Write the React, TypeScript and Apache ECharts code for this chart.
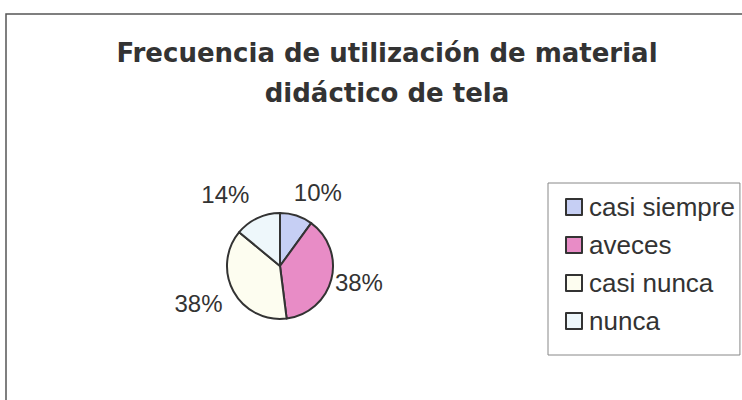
import React, { useEffect, useRef } from "react";
import * as echarts from "echarts";

const titleLines = ["Frecuencia de utilización de material", "didáctico de tela"];
const categories = ["casi siempre", "aveces", "casi nunca", "nunca"];
const values = [10, 38, 38, 14];
const colors = ["#c6cff4", "#e88cc6", "#fdfdf0", "#eef7fb"];

export default function App() {
  const ref = useRef<HTMLDivElement>(null);
  useEffect(() => {
    if (!ref.current) return;
    const chart = echarts.init(ref.current, undefined, { renderer: "svg" });
    const labelTweaks: Record<number, any> = {
      1: { labelLine: { show: false, length: 14, length2: 0 } },
      3: {
        labelLine: { show: false, length: 26, length2: 0 },
        label: { offset: [-7, 0] },
      },
    };
    const data = categories.map((name, i) => ({
      name,
      value: values[i],
      itemStyle: { color: colors[i] },
      ...(labelTweaks[i] || {}),
    }));
    chart.setOption({
      animation: false,
      backgroundColor: "#ffffff",
      title: {
        text: titleLines.join("\n"),
        left: 382,
        textAlign: "center",
        top: 28,
        textStyle: {
          fontFamily: "DejaVu Sans",
          fontWeight: "bold",
          fontSize: 26,
          lineHeight: 40,
          color: "#333333",
        },
      },
      graphic: [
        {
          type: "rect",
          shape: { x: 6, y: 14, width: 800, height: 500 },
          style: { fill: "none", stroke: "#555555", lineWidth: 1.5 },
          silent: true,
        },
      ],
      legend: {
        orient: "vertical",
        left: 548,
        top: 183,
        padding: [11, 5, 21, 17],
        itemGap: 12,
        itemWidth: 16,
        itemHeight: 16,
        icon: "rect",
        borderColor: "#888888",
        borderWidth: 1,
        textStyle: {
          fontFamily: "Liberation Sans, Arial, sans-serif",
          fontSize: 26,
          color: "#333333",
          padding: [0, 0, 0, 2],
        },
        data: categories,
      },
      series: [
        {
          type: "pie",
          center: [280, 266],
          radius: 53,
          startAngle: 90,
          clockwise: true,
          avoidLabelOverlap: false,
          itemStyle: { borderColor: "#333333", borderWidth: 2 },
          label: {
            show: true,
            position: "outside",
            formatter: "{d}%",
            distanceToLabelLine: -10,
            fontFamily: "Liberation Sans, Arial, sans-serif",
            fontSize: 24,
            color: "#333333",
          },
          labelLine: { show: false, length: 24, length2: 0 },
          emphasis: { disabled: true },
          data,
        },
      ],
    });
    return () => chart.dispose();
  }, []);
  return (
    <div
      ref={ref}
      style={{ position: "fixed", left: 0, top: 0, width: 742, height: 400 }}
    />
  );
}
